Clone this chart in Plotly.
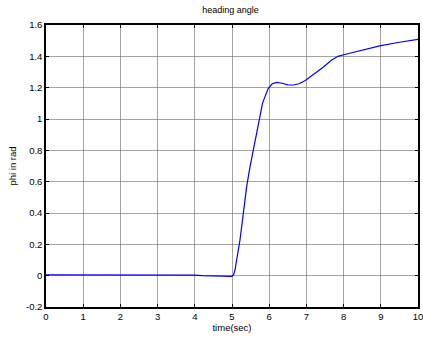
import plotly.graph_objects as go

t = [0, 1, 2, 3, 4, 4.2, 4.6, 5.0, 5.04, 5.08, 5.125, 5.215, 5.3, 5.394, 5.48, 5.573, 5.66,
     5.753, 5.82, 5.887, 5.977, 6.08, 6.2, 6.35, 6.5, 6.65, 6.8, 6.96, 7.2, 7.45, 7.68,
     7.85, 8.0, 8.5, 9.0, 9.5, 10.0]
phi = [0.005, 0.005, 0.005, 0.005, 0.004, 0.0, -0.003, -0.004, 0.005, 0.036, 0.1, 0.228,
       0.39, 0.568, 0.69, 0.802, 0.92, 1.036, 1.1, 1.143, 1.196, 1.225, 1.234, 1.228,
       1.218, 1.217, 1.225, 1.244, 1.285, 1.33, 1.377, 1.40, 1.41, 1.44, 1.468, 1.49, 1.508]

x_ticks = list(range(0, 11))
y_ticks = [-0.2, 0, 0.2, 0.4, 0.6, 0.8, 1, 1.2, 1.4, 1.6]
y_labels = ["-0.2", "0", "0.2", "0.4", "0.6", "0.8", "1", "1.2", "1.4", "1.6"]

font = dict(family="Liberation Sans, Arial", size=9.5, color="black")

fig = go.Figure()
fig.add_trace(go.Scatter(x=t, y=phi, mode="lines",
                         line=dict(color="#0000ff", width=1.2), showlegend=False))

axis_common = dict(
    showline=True, linecolor="black", linewidth=1.5, mirror="ticks",
    ticks="inside", ticklen=3, tickcolor="black", tickwidth=1,
    showgrid=True, gridcolor="rgba(90,90,90,0.55)", gridwidth=1,
    zeroline=False, tickfont=font, automargin=False, ticklabeloverflow="allow",
)

fig.update_layout(
    width=423, height=339,
    margin=dict(l=46, r=5, t=25, b=32),
    paper_bgcolor="white", plot_bgcolor="white",
    title=dict(text="heading angle", x=0.545, xanchor="center", y=0.97, yanchor="middle",
               font=dict(family="Liberation Sans, Arial", size=9, color="black")),
    xaxis=dict(range=[0, 10], tickvals=x_ticks,
               title=dict(text="time(sec)", standoff=2, font=font),
               **axis_common),
    yaxis=dict(range=[-0.2, 1.6], tickvals=y_ticks, ticktext=y_labels,
               title=dict(text="phi in rad", standoff=8, font=font),
               **axis_common),
)

fig.write_html("out.html")
